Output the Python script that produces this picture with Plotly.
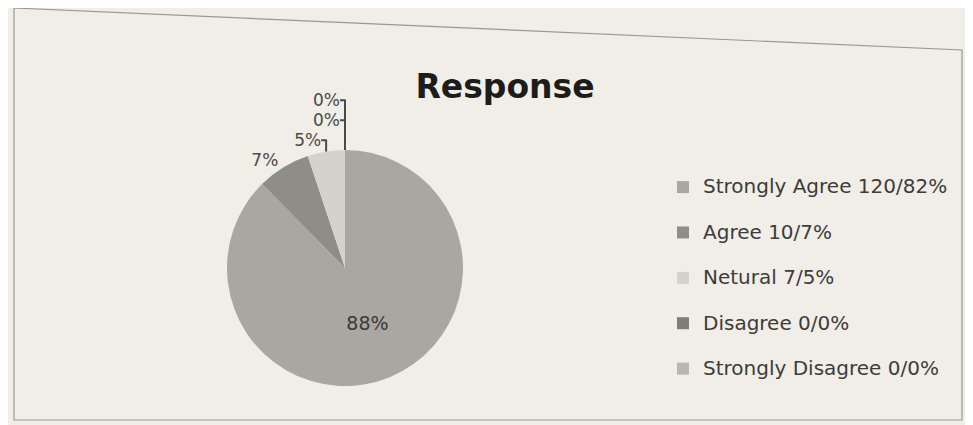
import plotly.graph_objects as go

# Data
categories = ["Strongly Agree 120/82%", "Agree 10/7%", "Netural 7/5%",
              "Disagree 0/0%", "Strongly Disagree 0/0%"]
counts = [120, 10, 7, 0, 0]
slice_colors = ["#aaa7a1", "#8f8d88", "#d4d2cc", "#7f7d79", "#b8b6b1"]

title_text = "Response"

# page body adds an 8px margin; the figure fills the rest of the window
OFF = 8
W, H = 973 - OFF, 425 - OFF


def px(x):
    return (x - OFF) / W


def py(y):
    return 1 - (y - OFF) / H


# legend entries get an empty second line to reproduce the wide row spacing
legend_labels = ['<span style="font-size:20px">' + c + "</span><br> "
                 for c in categories]

cx, cy, r = 345, 268, 118

fig = go.Figure()
fig.add_trace(go.Pie(
    labels=legend_labels,
    values=counts,
    sort=False,
    direction="clockwise",
    rotation=0,
    marker=dict(colors=slice_colors, line=dict(width=0)),
    texttemplate="%{percent:.0%}",
    textposition=["inside", "outside", "outside", "outside", "outside"],
    insidetextfont=dict(family="DejaVu Sans", size=19, color="#3a3a38"),
    outsidetextfont=dict(family="DejaVu Sans", size=17, color="#4a4a48"),
    domain=dict(x=[px(cx - r), px(cx + r)], y=[py(cy + r), py(cy - r)]),
    showlegend=True,
    hoverinfo="value+percent",
))

fig.update_layout(
    width=W, height=H,
    margin=dict(l=0, r=0, t=0, b=0, autoexpand=False),
    paper_bgcolor="#f1eee7",
    plot_bgcolor="#f1eee7",
    title=dict(text="<b>" + title_text + "</b>", x=px(505), xanchor="center",
               y=py(86), yanchor="middle",
               font=dict(family="DejaVu Sans", size=33, color="#1c1c1a")),
    legend=dict(
        x=px(663), xanchor="left",
        y=py(170), yanchor="top",
        valign="top",
        font=dict(family="DejaVu Sans", size=16.3, color="#3c3c3a"),
        bgcolor="rgba(0,0,0,0)",
        itemwidth=30,
    ),
    shapes=[dict(type="path", xref="paper", yref="paper",
                 path="M %f,%f L %f,%f L %f,%f L %f,%f Z" % (
                     px(14), py(8), px(962), py(50),
                     px(962), py(420), px(14), py(420)),
                 line=dict(color="#9a9892", width=1.2), layer="below")],
)

fig.write_html("out.html")
